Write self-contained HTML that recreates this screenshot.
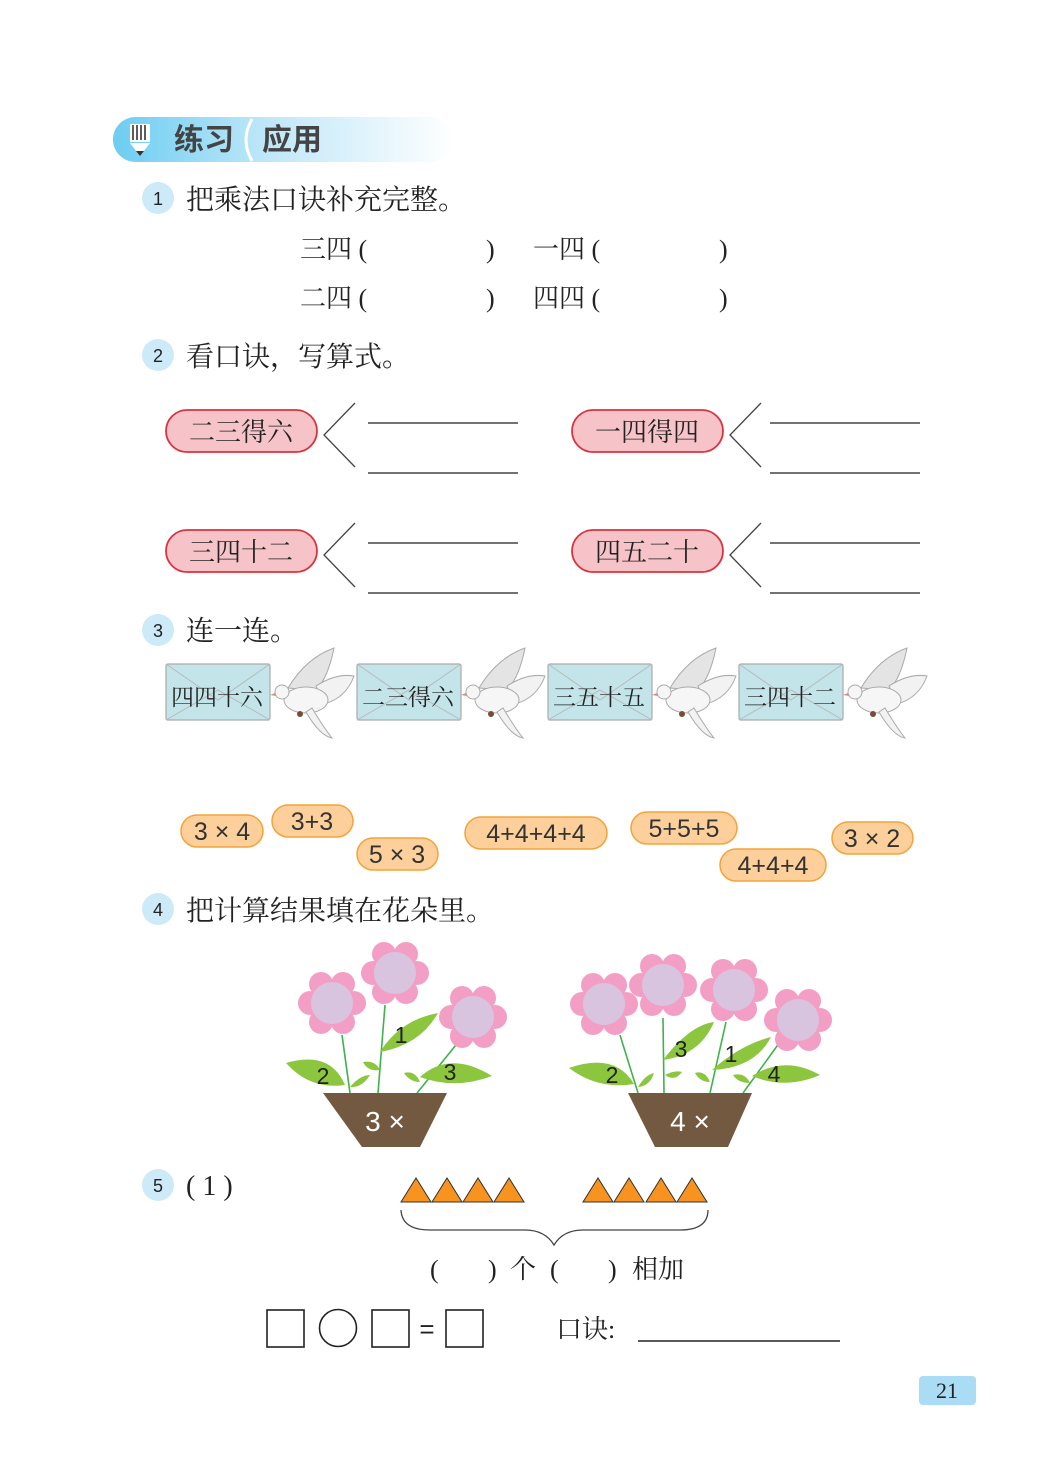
<!DOCTYPE html>
<html><head><meta charset="utf-8"><style>
html,body{margin:0;padding:0;background:#fff}
svg{display:block}
.k{font-family:"Liberation Serif","Noto Serif CJK SC",serif;fill:#222}
.s{font-family:"Liberation Sans","Noto Sans CJK SC",sans-serif}
</style></head><body>
<svg width="1048" height="1474" viewBox="0 0 1048 1474" xmlns="http://www.w3.org/2000/svg">
<defs>
<linearGradient id="bn" x1="0" x2="1" y1="0" y2="0">
<stop offset="0" stop-color="#6ccdf2"/><stop offset="0.45" stop-color="#bfe7f8"/><stop offset="1" stop-color="#ffffff"/>
</linearGradient>
<g id="fl">
<circle cx="22" cy="0" r="12" fill="#f39fc5"/><circle cx="11" cy="19" r="12" fill="#f39fc5"/><circle cx="-11" cy="19" r="12" fill="#f39fc5"/>
<circle cx="-22" cy="0" r="12" fill="#f39fc5"/><circle cx="-11" cy="-19" r="12" fill="#f39fc5"/><circle cx="11" cy="-19" r="12" fill="#f39fc5"/>
<circle cx="0" cy="0" r="21" fill="#d8c4df"/>
</g>
<g id="dv">
<path d="M12 40 Q30 10 58 0 Q52 30 40 42 Z" fill="#e4e4e4" stroke="#aaa" stroke-width="1"/>
<path d="M40 38 Q60 25 78 28 Q70 50 48 56 Z" fill="#f2f2f2" stroke="#aaa" stroke-width="1"/>
<ellipse cx="30" cy="52" rx="22" ry="13" fill="#f6f6f6" stroke="#aaa" stroke-width="1"/>
<circle cx="6" cy="44" r="7" fill="#f6f6f6" stroke="#aaa" stroke-width="1"/>
<path d="M-1 45 L-6 47 L0 48Z" fill="#d88"/>
<path d="M36 60 Q48 80 56 90 Q44 88 30 64Z" fill="#f2f2f2" stroke="#aaa" stroke-width="1"/>
<circle cx="24" cy="66" r="3" fill="#7a4b3a"/>
</g>
</defs>

<!-- header -->
<rect x="113" y="117" width="340" height="45" rx="22.5" fill="url(#bn)"/>
<path d="M252 119 Q240 140 252 161" stroke="#fff" stroke-width="3" fill="none"/>
<rect x="130" y="124" width="20" height="18" fill="#fff"/>
<g stroke="#333" stroke-width="1.6"><line x1="133" y1="125" x2="133" y2="140"/><line x1="137" y1="125" x2="137" y2="140"/><line x1="141" y1="125" x2="141" y2="140"/><line x1="145" y1="125" x2="145" y2="140"/></g>
<path d="M130 143 L150 143 L140 156 Z" fill="#fff"/><path d="M136 151 L144 151 L140 156Z" fill="#333"/>
<text x="174" y="150" class="s" font-size="30" font-weight="bold" fill="#444">练习</text>
<text x="262" y="150" class="s" font-size="30" font-weight="bold" fill="#444">应用</text>

<!-- section 1 -->
<circle cx="158" cy="198" r="16" fill="#cdeaf8"/>
<text x="158" y="205" class="s" font-size="18" text-anchor="middle" fill="#222">1</text>
<text x="186" y="209" class="k" font-size="28">把乘法口诀补充完整。</text>
<text x="300" y="258" class="k" font-size="26">三四 (</text><text x="486" y="258" class="k" font-size="26">)</text>
<text x="533" y="258" class="k" font-size="26">一四 (</text><text x="719" y="258" class="k" font-size="26">)</text>
<text x="300" y="307" class="k" font-size="26">二四 (</text><text x="486" y="307" class="k" font-size="26">)</text>
<text x="533" y="307" class="k" font-size="26">四四 (</text><text x="719" y="307" class="k" font-size="26">)</text>

<!-- section 2 -->
<circle cx="158" cy="355" r="16" fill="#cdeaf8"/>
<text x="158" y="362" class="s" font-size="18" text-anchor="middle" fill="#222">2</text>
<text x="186" y="366" class="k" font-size="28">看口诀，写算式。</text>
<g fill="#f6c3c8" stroke="#d9333f" stroke-width="1.8">
<rect x="166" y="410" width="151" height="42" rx="21"/><rect x="572" y="410" width="151" height="42" rx="21"/>
<rect x="166" y="530" width="151" height="42" rx="21"/><rect x="572" y="530" width="151" height="42" rx="21"/>
</g>
<text x="241" y="441" class="k" font-size="26" text-anchor="middle">二三得六</text>
<text x="647" y="441" class="k" font-size="26" text-anchor="middle">一四得四</text>
<text x="241" y="561" class="k" font-size="26" text-anchor="middle">三四十二</text>
<text x="647" y="561" class="k" font-size="26" text-anchor="middle">四五二十</text>
<g stroke="#444" stroke-width="1.3" fill="none">
<path d="M355 403 L324 435 L355 467"/><path d="M761 403 L730 435 L761 467"/>
<path d="M355 523 L324 555 L355 587"/><path d="M761 523 L730 555 L761 587"/>
</g>
<g stroke="#444" stroke-width="1.4">
<line x1="368" y1="423" x2="518" y2="423"/><line x1="368" y1="473" x2="518" y2="473"/>
<line x1="770" y1="423" x2="920" y2="423"/><line x1="770" y1="473" x2="920" y2="473"/>
<line x1="368" y1="543" x2="518" y2="543"/><line x1="368" y1="593" x2="518" y2="593"/>
<line x1="770" y1="543" x2="920" y2="543"/><line x1="770" y1="593" x2="920" y2="593"/>
</g>

<!-- section 3 -->
<circle cx="158" cy="630" r="16" fill="#cdeaf8"/>
<text x="158" y="637" class="s" font-size="18" text-anchor="middle" fill="#222">3</text>
<text x="186" y="640" class="k" font-size="28">连一连。</text>
<g>
<rect x="166" y="664" width="104" height="56" rx="2" fill="#c3e5ea" stroke="#aaa" stroke-width="1.2"/>
<path d="M166 664 L218 700 L270 664 M166 720 L218 690 L270 720" stroke="#b8b8b8" fill="none"/>
<text x="217" y="705" class="k" font-size="23" text-anchor="middle">四四十六</text>
<use href="#dv" x="276" y="648"/>
<rect x="357" y="664" width="104" height="56" rx="2" fill="#c3e5ea" stroke="#aaa" stroke-width="1.2"/>
<path d="M357 664 L409 700 L461 664 M357 720 L409 690 L461 720" stroke="#b8b8b8" fill="none"/>
<text x="408" y="705" class="k" font-size="23" text-anchor="middle">二三得六</text>
<use href="#dv" x="467" y="648"/>
<rect x="548" y="664" width="104" height="56" rx="2" fill="#c3e5ea" stroke="#aaa" stroke-width="1.2"/>
<path d="M548 664 L600 700 L652 664 M548 720 L600 690 L652 720" stroke="#b8b8b8" fill="none"/>
<text x="599" y="705" class="k" font-size="23" text-anchor="middle">三五十五</text>
<use href="#dv" x="658" y="648"/>
<rect x="739" y="664" width="104" height="56" rx="2" fill="#c3e5ea" stroke="#aaa" stroke-width="1.2"/>
<path d="M739 664 L791 700 L843 664 M739 720 L791 690 L843 720" stroke="#b8b8b8" fill="none"/>
<text x="790" y="705" class="k" font-size="23" text-anchor="middle">三四十二</text>
<use href="#dv" x="849" y="648"/>
</g>
<g fill="#fdd09b" stroke="#f3a33a" stroke-width="1.5">
<rect x="181" y="815" width="82" height="32" rx="16"/><rect x="272" y="805" width="81" height="32" rx="16"/>
<rect x="357" y="838" width="81" height="32" rx="16"/><rect x="465" y="817" width="142" height="32" rx="16"/>
<rect x="631" y="812" width="106" height="32" rx="16"/><rect x="720" y="849" width="106" height="32" rx="16"/>
<rect x="832" y="822" width="81" height="32" rx="16"/>
</g>
<g class="s" font-size="25" fill="#333" text-anchor="middle">
<text x="222" y="840">3 × 4</text><text x="312" y="830">3+3</text><text x="397" y="863">5 × 3</text>
<text x="536" y="842">4+4+4+4</text><text x="684" y="837">5+5+5</text><text x="773" y="874">4+4+4</text>
<text x="872" y="847">3 × 2</text>
</g>

<!-- section 4 -->
<circle cx="158" cy="909" r="16" fill="#cdeaf8"/>
<text x="158" y="916" class="s" font-size="18" text-anchor="middle" fill="#222">4</text>
<text x="186" y="920" class="k" font-size="28">把计算结果填在花朵里。</text>
<g stroke="#3db34a" stroke-width="1.6" fill="none">
<path d="M342 1035 L350 1093"/><path d="M385 1005 L378 1093"/><path d="M460 1040 L417 1093"/>
<path d="M620 1035 L638 1093"/><path d="M663 1018 L664 1093"/><path d="M726 1022 L710 1093"/><path d="M780 1042 L743 1093"/>
</g>
<g fill="#8cc63f">
<path d="M286 1063 Q330 1050 345 1085 Q310 1090 286 1063Z"/>
<path d="M350 1087 Q360 1075 370 1075 Q362 1088 350 1087Z"/>
<path d="M380 1052 Q400 1020 438 1013 Q420 1045 380 1052Z"/>
<path d="M363 1062 Q375 1060 380 1070 Q368 1072 363 1062Z"/>
<path d="M420 1077 Q450 1050 492 1076 Q455 1090 420 1077Z"/>
<path d="M404 1073 Q415 1070 420 1082 Q410 1082 404 1073Z"/>
<path d="M569 1068 Q615 1052 634 1084 Q598 1090 569 1068Z"/>
<path d="M638 1087 Q645 1075 654 1073 Q650 1086 638 1087Z"/>
<path d="M663 1060 Q690 1025 714 1022 Q700 1055 663 1060Z"/>
<path d="M665 1075 Q675 1070 682 1072 Q675 1082 665 1075Z"/>
<path d="M712 1070 Q740 1045 771 1037 Q755 1068 712 1070Z"/>
<path d="M695 1073 Q705 1070 710 1082 Q700 1082 695 1073Z"/>
<path d="M752 1076 Q785 1055 820 1075 Q785 1090 752 1076Z"/>
<path d="M733 1075 Q745 1072 750 1083 Q738 1083 733 1075Z"/>
</g>
<use href="#fl" x="332" y="1003"/><use href="#fl" x="395" y="973"/><use href="#fl" x="473" y="1017"/>
<use href="#fl" x="604" y="1004"/><use href="#fl" x="663" y="985"/><use href="#fl" x="734" y="990"/><use href="#fl" x="798" y="1020"/>
<g class="s" font-size="23" fill="#222" text-anchor="middle">
<text x="323" y="1084">2</text><text x="401" y="1043">1</text><text x="450" y="1080">3</text>
<text x="612" y="1083">2</text><text x="681" y="1057">3</text><text x="731" y="1062">1</text><text x="774" y="1082">4</text>
</g>
<path d="M323 1093 L447 1093 L420 1147 L362 1147 Z" fill="#735940"/>
<path d="M628 1093 L752 1093 L728 1147 L655 1147 Z" fill="#735940"/>
<text x="385" y="1131" class="s" font-size="28" fill="#fff" text-anchor="middle">3 ×</text>
<text x="690" y="1131" class="s" font-size="28" fill="#fff" text-anchor="middle">4 ×</text>

<!-- section 5 -->
<circle cx="158" cy="1185" r="16" fill="#cdeaf8"/>
<text x="158" y="1192" class="s" font-size="18" text-anchor="middle" fill="#222">5</text>
<text x="186" y="1195" class="k" font-size="28">( 1 )</text>
<g fill="#f7931e" stroke="#333" stroke-width="1">
<path d="M401 1202 L416 1178 L431 1202Z"/><path d="M432 1202 L447 1178 L462 1202Z"/><path d="M463 1202 L478 1178 L493 1202Z"/><path d="M494 1202 L509 1178 L524 1202Z"/>
<path d="M583 1202 L598 1178 L613 1202Z"/><path d="M614 1202 L629 1178 L644 1202Z"/><path d="M646 1202 L661 1178 L676 1202Z"/><path d="M677 1202 L692 1178 L707 1202Z"/>
</g>
<path d="M401 1210 Q402 1230 430 1230 L525 1230 Q545 1230 554 1245 Q563 1230 583 1230 L680 1230 Q708 1230 708 1210" stroke="#444" stroke-width="1.3" fill="none"/>
<g class="k" font-size="26">
<text x="430" y="1278">(</text><text x="488" y="1278">)</text><text x="510" y="1278">个</text>
<text x="550" y="1278">(</text><text x="608" y="1278">)</text><text x="632" y="1278">相加</text>
</g>
<g stroke="#222" stroke-width="1.6" fill="none">
<rect x="267" y="1310" width="37" height="37"/><circle cx="338" cy="1328" r="18.5"/>
<rect x="372" y="1310" width="37" height="37"/><rect x="446" y="1310" width="37" height="37"/>
</g>
<text x="427" y="1338" class="s" font-size="26" fill="#222" text-anchor="middle">=</text>
<text x="556" y="1338" class="k" font-size="26">口诀:</text>
<line x1="638" y1="1341" x2="840" y2="1341" stroke="#222" stroke-width="1.4"/>

<rect x="919" y="1376" width="57" height="29" rx="4" fill="#aadcf6"/>
<text x="947" y="1398" font-family="Liberation Serif,serif" font-size="22" fill="#222" text-anchor="middle">21</text>
</svg>
</body></html>
